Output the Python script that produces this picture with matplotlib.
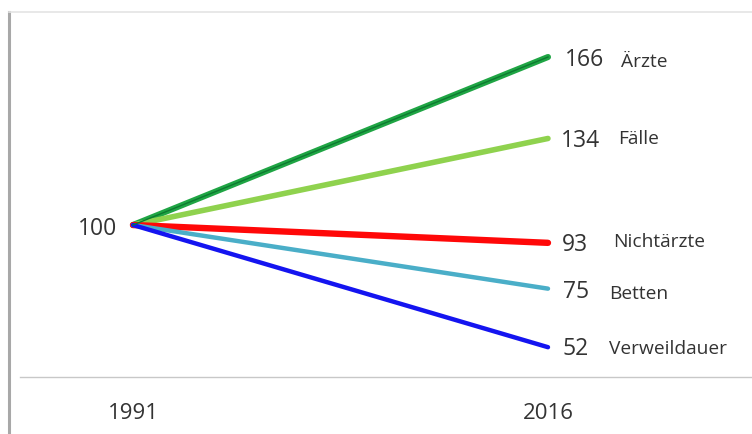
import matplotlib.pyplot as plt
from matplotlib.lines import Line2D

plt.rcParams['font.family'] = ['Open Sans', 'DejaVu Sans']

years = [1991, 2016]
series = ['Ärzte', 'Fälle', 'Nichtärzte', 'Betten', 'Verweildauer']
start = [100, 100, 100, 100, 100]
end = [166, 134, 93, 75, 52]
colors = ['#1fa544', '#8fd24e', '#ff0808', '#4aaec8', '#1414f0']
widths = [4.4, 4.0, 4.6, 3.2, 3.2]

fig = plt.figure(figsize=(7.52, 4.34), dpi=100)
ax = fig.add_axes([0, 0, 1, 1])
ax.set_xlim(1982.99, 2028.29)
ax.set_ylim(17.9, 188.4)
ax.axis('off')

# card edges: darker shadow on the left, faint line on top
x0, y0 = 9 / 752, 1 - 12 / 434
fig.add_artist(Line2D([x0, x0], [0, y0], transform=fig.transFigure,
                      color='#a8a8a8', lw=2.2))
fig.add_artist(Line2D([x0, 1], [y0, y0], transform=fig.transFigure,
                      color='#e4e4e4', lw=1.2))

for name, s, e, c, w in zip(series, start, end, colors, widths):
    ax.plot(years, [s, e], color=c, lw=w, solid_capstyle='round', zorder=3)
    if name == 'Ärzte':
        ax.plot(years, [s, e], color='#0d7a30', lw=1.0, zorder=4)

# value / name labels at 2016
val_off = [1.05, 0.75, 0.85, 0.9, 0.9]
name_off = [4.4, 4.2, 3.9, 3.7, 3.7]
val_dy = [-1.2, -0.8, -0.8, -1.5, -0.8]
name_dy = [-2.0, -0.4, 0.4, -2.0, -0.8]
for name, e, vo, no, vd, nd in zip(series, end, val_off, name_off,
                                   val_dy, name_dy):
    ax.text(years[1] + vo, e + vd, str(e), fontsize=16.5, color='#333333',
            va='center', ha='left')
    ax.text(years[1] + no, e + nd, name, fontsize=13.8, color='#333333',
            va='center', ha='left')

ax.text(years[0] - 0.95, start[0] - 1.5, str(start[0]), fontsize=16.5,
        color='#333333', va='center', ha='right')

# baseline and year labels
ax.plot([1984.2, 2028.2], [40.3, 40.3], color='#c8c8c8', lw=1.0)
for yr in years:
    ax.text(yr, 26.1, str(yr), fontsize=16, color='#333333',
            va='center', ha='center')

fig.savefig('out.png', dpi=100)
